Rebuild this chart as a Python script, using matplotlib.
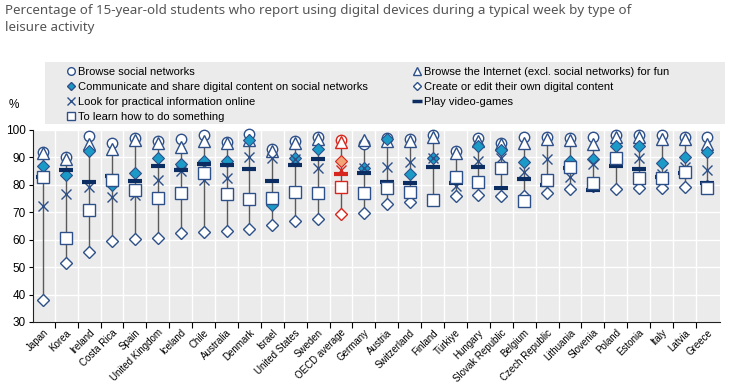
import numpy as np
import matplotlib.pyplot as plt
from matplotlib.lines import Line2D
from matplotlib.patches import Rectangle

countries = ['Japan', 'Korea', 'Ireland', 'Costa Rica', 'Spain', 'United Kingdom', 'Iceland',
             'Chile', 'Australia', 'Denmark', 'Israel', 'United States', 'Sweden', 'OECD average',
             'Germany', 'Austria', 'Switzerland', 'Finland', 'Türkiye', 'Hungary', 'Slovak Republic',
             'Belgium', 'Czech Republic', 'Lithuania', 'Slovenia', 'Poland', 'Estonia', 'Italy',
             'Latvia', 'Greece']

browse_social = [91.9, 90.0, 97.9, 95.4, 97.0, 95.9, 96.7, 98.3, 95.7, 98.5, 93.0, 96.1, 97.6, 96.2, 94.9,
                 97.0, 96.7, 98.2, 92.3, 97.0, 95.4, 97.6, 97.6, 97.2, 97.6, 98.2, 98.2, 98.2, 97.6, 97.6]
browse_internet = [91.5, 89.4, 95.0, 93.0, 96.3, 95.4, 93.9, 96.1, 95.4, 96.4, 92.3, 95.4, 96.6, 95.5, 96.4,
                   96.0, 96.1, 97.6, 91.7, 96.1, 94.9, 95.1, 96.7, 96.4, 94.9, 97.6, 97.6, 96.7, 96.7, 94.9]
communicate = [86.9, 83.6, 92.3, 80.0, 84.4, 89.8, 87.6, 88.8, 88.8, 96.4, 72.6, 89.9, 93.1, 88.6, 86.2,
               96.6, 83.8, 89.9, 83.0, 94.2, 92.7, 88.4, 81.5, 88.6, 89.3, 94.2, 94.3, 87.8, 90.3, 92.1]
create = [38.0, 51.6, 55.4, 59.6, 60.2, 60.5, 62.3, 62.9, 63.3, 63.9, 65.3, 66.9, 67.5, 69.2, 69.6,
          73.0, 73.7, 74.3, 75.8, 76.3, 75.9, 75.8, 76.9, 78.4, 79.5, 78.5, 78.7, 78.9, 79.3, 79.6]
practical = [72.3, 76.6, 79.3, 75.7, 76.3, 81.8, 85.1, 81.8, 82.4, 90.0, 89.7, 89.5, 86.0, 85.5, 86.0,
             86.6, 88.2, 89.9, 79.5, 88.8, 89.7, 84.8, 89.3, 83.0, 87.5, 89.5, 89.7, 84.0, 86.6, 85.4]
video = [83.0, 85.4, 81.1, 83.2, 81.5, 86.9, 85.4, 87.5, 87.2, 85.8, 81.5, 87.2, 89.3, 84.0, 84.2,
         80.9, 80.5, 86.4, 80.8, 86.4, 78.9, 82.1, 80.0, 86.0, 78.1, 86.9, 85.6, 83.0, 84.3, 80.5]
learn = [83.0, 60.5, 70.8, 81.7, 78.1, 75.3, 76.9, 84.2, 76.6, 74.8, 75.3, 77.5, 77.1, 79.1, 76.9,
         78.7, 77.5, 74.5, 83.0, 80.9, 86.0, 74.1, 81.9, 86.6, 80.8, 89.7, 82.4, 82.6, 84.8, 78.7]

labels_left = ['Browse social networks',
               'Communicate and share digital content on social networks',
               'Look for practical information online',
               'To learn how to do something']
labels_right = ['Browse the Internet (excl. social networks) for fun',
                'Create or edit their own digital content',
                'Play video-games']

NAVY = '#2e5089'
DARK = '#0c2d62'
TEAL = '#1b9ac7'
RED = '#d7261e'
ORANGE = '#f2a477'

plt.rcParams['font.family'] = ['Liberation Sans', 'DejaVu Sans']

fig = plt.figure(figsize=(7.35, 3.86), dpi=100)
ax = fig.add_axes([33/735, 1-322/386, 687/735, 192/386])
ax.set_facecolor('#ebebeb')

x = np.arange(len(countries))
oecd = countries.index('OECD average')
rest = x != oecd

allvals = np.array([browse_social, browse_internet, communicate, create, practical, video, learn])
ax.vlines(x, allvals.min(axis=0), allvals.max(axis=0), color='#5a5a5a', lw=1, zorder=2)

# (values, marker kwargs, fill colour for OECD, zorder)
series = [
    (browse_social, dict(marker='o', ms=7.5, mfc='white', mew=1), 'white', 3),
    (browse_internet, dict(marker='^', ms=8, mfc='white', mew=1), 'white', 4),
    (communicate, dict(marker='D', ms=6.2, mfc=TEAL, mew=0.8), ORANGE, 5),
    (create, dict(marker='D', ms=6.2, mfc='white', mew=1), 'white', 5),
    (practical, dict(marker='x', ms=7.5, mew=1), None, 6),
    (video, dict(marker='_', ms=9.5, mew=3), None, 7),
    (learn, dict(marker='s', ms=8.5, mfc='white', mew=1), 'white', 8),
]
for vals, kw, ofc, z in series:
    vals = np.array(vals)
    ec = DARK if kw['marker'] == '_' else NAVY
    ax.plot(x[rest], vals[rest], ls='none', mec=ec, color=ec, zorder=z, clip_on=False, **kw)
    kw2 = dict(kw)
    if ofc is not None:
        kw2['mfc'] = ofc
    ax.plot(x[oecd], vals[oecd], ls='none', mec=RED, color=RED, zorder=z, clip_on=False, **kw2)

h_left = [Line2D([], [], ls='none', mec=NAVY, color=NAVY, mfc='white', marker='o', ms=5.5),
          Line2D([], [], ls='none', mec=NAVY, mfc=TEAL, marker='D', ms=4.5),
          Line2D([], [], ls='none', mec=NAVY, color=NAVY, marker='x', ms=5.5),
          Line2D([], [], ls='none', mec=NAVY, mfc='white', marker='s', ms=5.5)]
h_right = [Line2D([], [], ls='none', mec=NAVY, mfc='white', marker='^', ms=5.5),
           Line2D([], [], ls='none', mec=NAVY, mfc='white', marker='D', ms=4.5),
           Line2D([], [], ls='none', mec=DARK, color=DARK, marker='_', ms=7, mew=2.5)]

fig.patches.append(Rectangle((45/735, 1-124/386), 680/735, 62/386, transform=fig.transFigure,
                             facecolor='#ebebeb', edgecolor='none'))
leg_kw = dict(loc='upper left', frameon=False, fontsize=8, handlelength=0.7, handletextpad=0.3,
              labelspacing=0.45, borderaxespad=0, borderpad=0.2)
fig.legend(h_left, labels_left, bbox_to_anchor=(65/735, 1-65/386), **leg_kw)
fig.legend(h_right, labels_right, bbox_to_anchor=(411/735, 1-65/386), **leg_kw)

ax.set_xlim(-0.45, 29.55)
ax.set_ylim(30, 100)
ax.set_yticks(np.arange(30, 101, 10))
ax.tick_params(axis='y', labelsize=8.5, length=3, width=0.8, pad=2)
ax.set_xticks(x)
ax.set_xticklabels(countries, rotation=45, ha='right', rotation_mode='anchor', fontsize=7)
ax.set_xticks(x[:-1] + 0.5, minor=True)
ax.tick_params(axis='x', which='major', length=0, pad=4)
ax.tick_params(axis='x', which='minor', length=4, width=0.8)
ax.grid(axis='y', color='white', lw=1)
for b in x[:-1] + 0.5:
    ax.axvline(b, color='white', lw=1, zorder=1)
ax.set_axisbelow(True)
for s in ['top', 'right']:
    ax.spines[s].set_visible(False)
for s in ['left', 'bottom']:
    ax.spines[s].set_color('#222222')
    ax.spines[s].set_linewidth(0.8)

fig.text(14/735, 1-105/386, '%', fontsize=8.5, ha='center', va='center')
fig.text(5/735, 1-4/386, 'Percentage of 15-year-old students who report using digital devices during a typical week by type of\nleisure activity',
         ha='left', va='top', fontsize=9.6, color='#555555', family='Noto Sans', linespacing=1.45)

fig.savefig('out.png', dpi=100)
